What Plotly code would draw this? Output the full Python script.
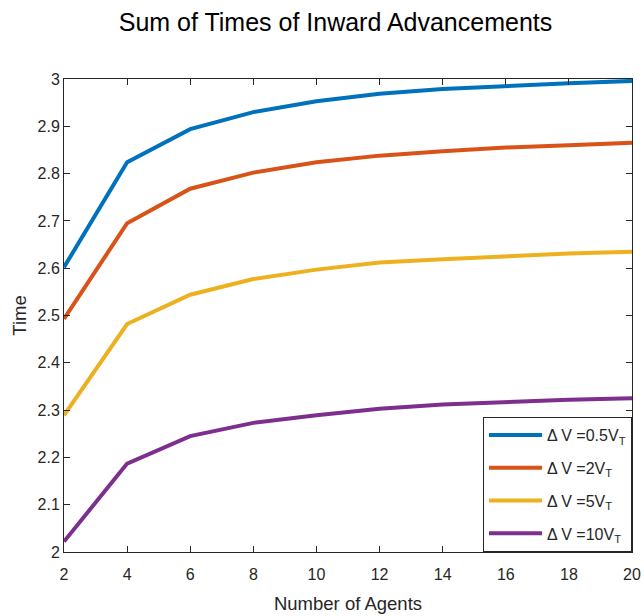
import plotly.graph_objects as go

agents = [2, 4, 6, 8, 10, 12, 14, 16, 18, 20]
t_05 = [2.602, 2.824, 2.894, 2.930, 2.953, 2.969, 2.979, 2.986, 2.991, 2.996]
t_2 = [2.493, 2.695, 2.768, 2.802, 2.824, 2.838, 2.847, 2.855, 2.860, 2.865]
t_5 = [2.289, 2.482, 2.544, 2.577, 2.597, 2.612, 2.619, 2.626, 2.631, 2.635]
t_10 = [2.022, 2.187, 2.245, 2.273, 2.289, 2.303, 2.312, 2.318, 2.322, 2.325]
names = ["Δ V =0.5V<sub>T</sub>", "Δ V =2V<sub>T</sub>", "Δ V =5V<sub>T</sub>", "Δ V =10V<sub>T</sub>"]
colors = ["#0072BD", "#D95319", "#EDB120", "#7E2F8E"]
x_ticks = [2, 4, 6, 8, 10, 12, 14, 16, 18, 20]
y_ticks = [2, 2.1, 2.2, 2.3, 2.4, 2.5, 2.6, 2.7, 2.8, 2.9, 3]
y_tick_text = ["2", "2.1", "2.2", "2.3", "2.4", "2.5", "2.6", "2.7", "2.8", "2.9", "3"]

font_family = "Liberation Sans, Arial, Helvetica, sans-serif"
axis_color = "#262626"

fig = go.Figure()
for i, (ys, nm, c) in enumerate(zip([t_05, t_2, t_5, t_10], names, colors)):
    fig.add_trace(go.Scatter(x=agents, y=ys, mode="lines", name=nm,
                             legendgroup=f"g{i}",
                             line=dict(color=c, width=4)))

axis_common = dict(
    showgrid=False, zeroline=False, showline=True, linecolor=axis_color,
    linewidth=1, mirror="ticks", ticks="inside", ticklen=6, tickcolor=axis_color,
    tickfont=dict(family=font_family, size=16, color=axis_color),
    automargin=False,
)

fig.update_layout(
    width=644, height=616,
    margin=dict(l=64, r=12, t=79, b=64),
    paper_bgcolor="white", plot_bgcolor="white",
    font=dict(family=font_family, color=axis_color),
    title=dict(text="Sum of Times of Inward Advancements", x=335.5 / 644, xanchor="center",
               xref="container", y=1 - 22 / 616, yanchor="middle", yref="container",
               font=dict(family=font_family, size=25, color="black")),
    xaxis=dict(range=[2, 20], tickvals=x_ticks, ticklabelstandoff=8,
               title=dict(text="Number of Agents", standoff=14,
                          font=dict(family=font_family, size=18.5, color=axis_color)),
               **axis_common),
    yaxis=dict(range=[2, 3], tickvals=y_ticks, ticktext=y_tick_text,
               title=dict(text="Time", standoff=6,
                          font=dict(family=font_family, size=18.5, color=axis_color)),
               **axis_common),
    legend=dict(x=1, y=0, xanchor="right", yanchor="bottom",
                bgcolor="white", bordercolor=axis_color, borderwidth=1,
                font=dict(family=font_family, size=16, color=axis_color),
                tracegroupgap=9, itemwidth=53),
    showlegend=True,
)

fig.write_html("out.html")
